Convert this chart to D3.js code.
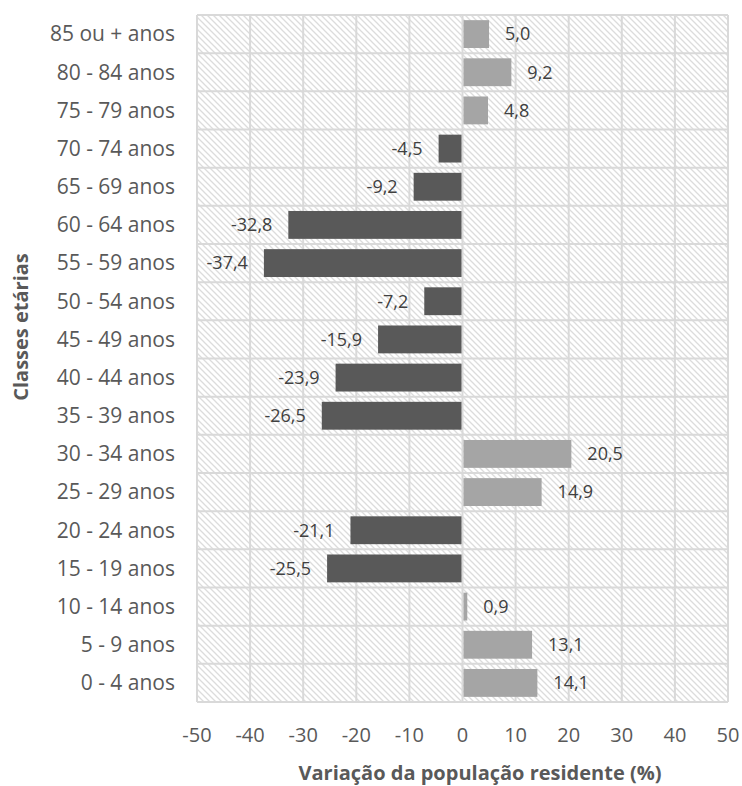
<!DOCTYPE html>
<html>
<head>
<meta charset="utf-8">
<script src="https://cdn.jsdelivr.net/npm/d3@7"></script>
<style>
html,body{margin:0;padding:0;background:#fff;}
svg{display:block;}
text{font-family:"Open Sans",sans-serif;}
</style>
</head>
<body>
<svg id="chart" width="742" height="786"></svg>
<script>
const categories = ["85 ou + anos","80 - 84 anos","75 - 79 anos","70 - 74 anos","65 - 69 anos","60 - 64 anos","55 - 59 anos","50 - 54 anos","45 - 49 anos","40 - 44 anos","35 - 39 anos","30 - 34 anos","25 - 29 anos","20 - 24 anos","15 - 19 anos","10 - 14 anos","5 - 9 anos","0 - 4 anos"];
const values = [5.0, 9.2, 4.8, -4.5, -9.2, -32.8, -37.4, -7.2, -15.9, -23.9, -26.5, 20.5, 14.9, -21.1, -25.5, 0.9, 13.1, 14.1];
const xTicks = [-50,-40,-30,-20,-10,0,10,20,30,40,50];
const xTitle = "Variação da população residente (%)";
const yTitle = "Classes etárias";

const svg = d3.select("#chart");
const m = {left:197, right:728, top:15, bottom:702};

const defs = svg.append("defs");
const pat = defs.append("pattern").attr("id","hatch").attr("patternUnits","userSpaceOnUse")
  .attr("width",6).attr("height",6);
pat.append("rect").attr("width",6).attr("height",6).attr("fill","#fff");
pat.append("path").attr("d","M-1,-1 L7,7 M-1,5 L1,7 M5,-1 L7,1").attr("stroke","#dcdcdc").attr("stroke-width",1.3);

const x = d3.scaleLinear().domain([-50,50]).range([m.left,m.right]);
const y = d3.scaleBand().domain(categories).range([m.top,m.bottom]).paddingInner(0.27).paddingOuter(0.135);
const yGrid = d3.scaleBand().domain(categories).range([m.top,m.bottom]);

// background
svg.append("rect").attr("x",m.left).attr("y",m.top).attr("width",m.right-m.left).attr("height",m.bottom-m.top).attr("fill","url(#hatch)");

// grid
const g = svg.append("g").attr("stroke","#d9d9d9").attr("stroke-width",2);
xTicks.forEach(t=>{
  g.append("line").attr("x1",x(t)).attr("x2",x(t)).attr("y1",m.top).attr("y2",m.bottom);
});
categories.forEach(c=>{
  g.append("line").attr("x1",m.left).attr("x2",m.right).attr("y1",yGrid(c)).attr("y2",yGrid(c));
});
g.append("line").attr("x1",m.left).attr("x2",m.right).attr("y1",m.bottom).attr("y2",m.bottom);

// bars
svg.append("g").selectAll("rect").data(values).join("rect")
  .attr("x",(d)=> d<0 ? x(d) : x(0)+1)
  .attr("width",(d)=> Math.max(1, Math.abs(x(d)-x(0)) - 1))
  .attr("y",(d,i)=>y(categories[i]))
  .attr("height",y.bandwidth())
  .attr("fill",d=> d<0 ? "#595959" : "#a5a5a5");

// value labels
const fmt = v => v.toFixed(1).replace(".",",");
svg.append("g").selectAll("text").data(values).join("text")
  .attr("x",d=> d<0 ? x(d)-16 : x(d)+16)
  .attr("y",(d,i)=>y(categories[i])+y.bandwidth()/2)
  .attr("dy","0.35em")
  .attr("text-anchor",d=> d<0 ? "end":"start")
  .attr("font-size",18).attr("fill","#404040")
  .text(fmt);

// category labels
svg.append("g").selectAll("text").data(categories).join("text")
  .attr("x",175).attr("y",c=>yGrid(c)+yGrid.bandwidth()/2).attr("dy","0.35em")
  .attr("text-anchor","end").attr("font-size",21).attr("fill","#595959").text(c=>c);

// x tick labels
svg.append("g").selectAll("text").data(xTicks).join("text")
  .attr("x",t=>x(t)).attr("y",735).attr("dy","0.35em")
  .attr("text-anchor","middle").attr("font-size",20).attr("fill","#595959").text(t=>t);

// titles
svg.append("text").attr("x",480).attr("y",773).attr("dy","0.35em").attr("text-anchor","middle")
  .attr("font-size",20).attr("font-weight","bold").attr("fill","#595959").text(xTitle);
svg.append("text").attr("transform","translate(21,327) rotate(-90)").attr("dy","0.35em").attr("text-anchor","middle")
  .attr("font-size",20).attr("font-weight","bold").attr("fill","#595959").text(yTitle);
</script>
</body>
</html>
